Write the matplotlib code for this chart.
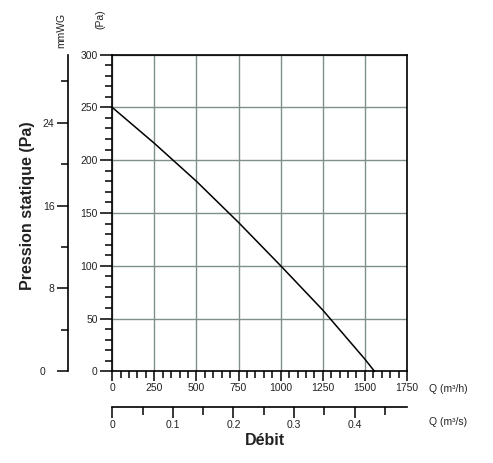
import matplotlib
matplotlib.use("Agg")
import matplotlib.pyplot as plt
import matplotlib.transforms as mtransforms
from matplotlib.ticker import FixedLocator, MultipleLocator

plt.rcParams['font.family'] = ['Liberation Sans', 'DejaVu Sans']

# Data
flow_m3h = [0, 250, 500, 750, 1000, 1250, 1500, 1557]
pressure_pa = [250, 216, 180, 141, 100, 58, 11.5, 0]

pa_ticks = [0, 50, 100, 150, 200, 250, 300]
q_ticks = [0, 250, 500, 750, 1000, 1250, 1500, 1750]
mmwg_major = [0, 8, 16, 24]
mmwg_minor = [4, 12, 20, 28]
qs_major = [0, 0.1, 0.2, 0.3, 0.4]
qs_minor = [0.05, 0.15, 0.25, 0.35, 0.45]

W, H = 493, 463
fig = plt.figure(figsize=(W / 100, H / 100), dpi=100)
ax = fig.add_axes([112.2 / W, 1 - 371.3 / H, (407 - 112.2) / W, (371.3 - 54.6) / H])

ax.plot(flow_m3h, pressure_pa, color='black', lw=1.1, zorder=3, clip_on=False)
ax.set_xlim(0, 1750)
ax.set_ylim(0, 300)
ax.set_xticks(q_ticks)
ax.set_yticks(pa_ticks)
ax.xaxis.set_minor_locator(MultipleLocator(50))
ax.yaxis.set_minor_locator(MultipleLocator(10))
ax.grid(True, which='major', color='#7f8f8c', lw=1.0, zorder=1)
for s in ax.spines.values():
    s.set_linewidth(1.2)
    s.set_color('black')
ax.tick_params(axis='y', which='major', direction='out', length=9, width=1.1, labelsize=7.5, pad=1.5, colors='black', labelcolor='#222222')
ax.tick_params(axis='y', which='minor', direction='out', length=5, width=1.1)
ax.tick_params(axis='x', which='major', direction='out', length=7, width=1.1, labelsize=7.5, pad=1.5, labelcolor='#222222')
ax.tick_params(axis='x', which='minor', direction='out', length=5, width=1.1)

# mmWG secondary axis
PA_PER_MMWG = 9.80665
sec_y = ax.secondary_yaxis(-0.151, functions=(lambda p: p / PA_PER_MMWG, lambda m: m * PA_PER_MMWG))
sec_y.yaxis.set_major_locator(FixedLocator(mmwg_major))
sec_y.yaxis.set_minor_locator(FixedLocator(mmwg_minor))
sec_y.spines['left'].set_linewidth(1.2)
sec_y.tick_params(axis='y', which='major', direction='out', length=8, width=1.1, labelsize=7.5, pad=1.5, labelcolor='#222222')
sec_y.tick_params(axis='y', which='minor', direction='out', length=5, width=1.1)
fig.canvas.draw()
for lbl in sec_y.get_yticklabels():
    if lbl.get_text() == '0':
        lbl.set_transform(lbl.get_transform() + mtransforms.ScaledTranslation(-0.09, 0, fig.dpi_scale_trans))

# m3/s secondary axis
sec_x = ax.secondary_xaxis(-0.112, functions=(lambda q: q / 3600.0, lambda s: s * 3600.0))
sec_x.xaxis.set_major_locator(FixedLocator(qs_major))
sec_x.xaxis.set_minor_locator(FixedLocator(qs_minor))
sec_x.spines['bottom'].set_linewidth(1.2)
sec_x.tick_params(axis='x', which='major', direction='out', length=8, width=1.1, labelsize=7.5, pad=1.5, labelcolor='#222222')
sec_x.tick_params(axis='x', which='minor', direction='out', length=6, width=1.1)
sec_x.xaxis.set_major_formatter(plt.FuncFormatter(lambda v, p: '0' if v == 0 else f'{v:.1f}'))

# Texts
ax.text(1.075, -0.056, 'Q (m³/h)', transform=ax.transAxes, fontsize=7.5, va='center', ha='left', color='#222222')
ax.text(1.075, -0.16, 'Q (m³/s)', transform=ax.transAxes, fontsize=7.5, va='center', ha='left', color='#222222')
ax.text(0.518, -0.217, 'Débit', transform=ax.transAxes, fontsize=11.5, fontweight='bold', va='center', ha='center', color='#222222')
fig.text(28 / W, 1 - 206 / H, 'Pression statique (Pa)', rotation=90, fontsize=11.5, fontweight='bold', va='center', ha='center', color='#222222')
fig.text(61 / W, 1 - 30 / H, 'mmWG', rotation=90, fontsize=7.5, va='center', ha='center', color='#222222')
fig.text(100 / W, 1 - 19 / H, '(Pa)', rotation=90, fontsize=7.5, va='center', ha='center', color='#222222')

fig.savefig('out.png', dpi=100)
